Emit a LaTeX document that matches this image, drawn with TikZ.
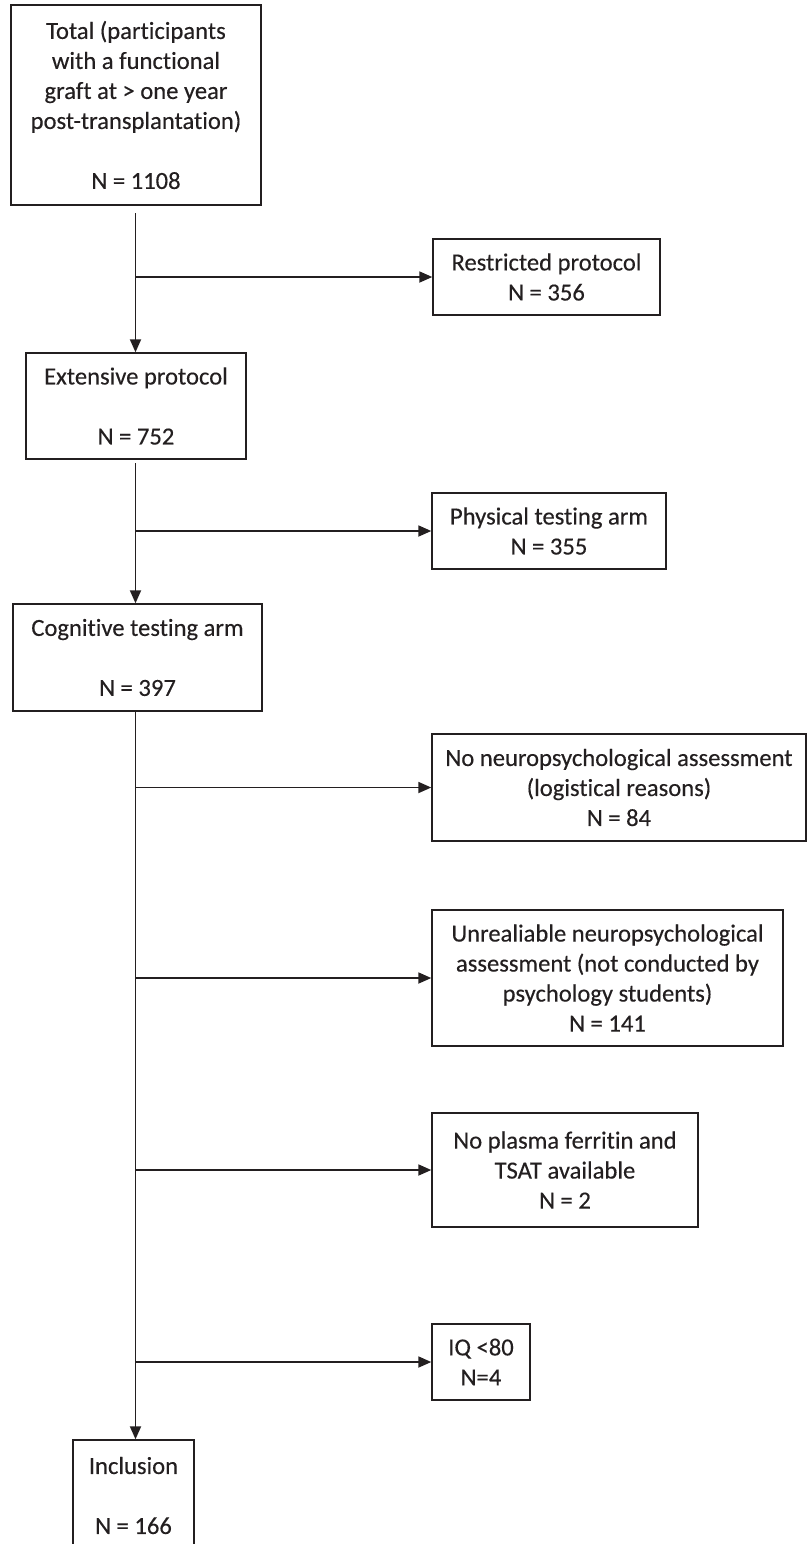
\documentclass[tikz,border=0pt]{standalone}
\usepackage{fontspec}
\setmainfont{Carlito}[Ligatures={NoCommon,NoRare,NoContextual},FakeBold=0.3]
\usetikzlibrary{arrows.meta}
\definecolor{ink}{RGB}{35,31,32}
\begin{document}
\begin{tikzpicture}[x=0.5pt,y=-0.5pt,
  box/.style={draw=ink, text=ink, line width=0.7pt, inner sep=0pt, align=center,
    font=\fontsize{12.3pt}{15pt}\selectfont},
  ln/.style={draw=ink, line width=0.9pt},
  arr/.style={ln, -{Triangle[length=6.5pt,width=5.5pt]}}]
\useasboundingbox (0,0) rectangle (807,1544);
% main column
\node[box, minimum width=125pt, minimum height=100pt] (total) at (136,105)
  {Total (participants\\with a functional\\graft at > one year\\post-transplantation)\\[15pt]N = 1108};
\node[box, minimum width=110pt, minimum height=53pt] (ext) at (136,406)
  {Extensive protocol\\[15pt]N = 752};
\node[box, minimum width=124.5pt, minimum height=53.5pt] (cog) at (137.5,657.5)
  {Cognitive testing arm\\[15pt]N = 397};
\node[box, minimum width=60.5pt, minimum height=55.5pt] (incl) at (133.5,1495.5)
  {Inclusion\\[15pt]N = 166};
% side boxes
\node[box, minimum width=113.5pt, minimum height=38pt] (restr) at (546.5,277)
  {Restricted protocol\\N = 356};
\node[box, minimum width=117pt, minimum height=38pt] (phys) at (549,531)
  {Physical testing arm\\N = 355};
\node[box, minimum width=187pt, minimum height=53.5pt] (noneuro) at (619,787.5)
  {No neuropsychological assessment\\(logistical reasons)\\N = 84};
\node[box, minimum width=175.5pt, minimum height=68pt] (unrel) at (607.5,978)
  {Unrealiable neuropsychological\\assessment (not conducted by\\psychology students)\\N = 141};
\node[box, minimum width=133pt, minimum height=57pt] (plasma) at (565,1170)
  {No plasma ferritin and\\TSAT available\\N = 2};
\node[box, minimum width=49pt, minimum height=38pt] (iq) at (481,1362)
  {IQ <80\\N=4};
% connector start points
\coordinate (s1) at (135.5,213);
\coordinate (s2) at (135.5,463);
\coordinate (s3) at (135.5,711);
% connectors
\draw[arr] (s1) -- (s1 |- ext.north);
\draw[arr] (s1 |- restr.west) -- (restr.west);
\draw[arr] (s2) -- (s2 |- cog.north);
\draw[arr] (s2 |- phys.west) -- (phys.west);
\draw[arr] (s3) -- (s3 |- incl.north);
\draw[arr] (s3 |- noneuro.west) -- (noneuro.west);
\draw[arr] (s3 |- unrel.west) -- (unrel.west);
\draw[arr] (s3 |- plasma.west) -- (plasma.west);
\draw[arr] (s3 |- iq.west) -- (iq.west);
\end{tikzpicture}
\end{document}
